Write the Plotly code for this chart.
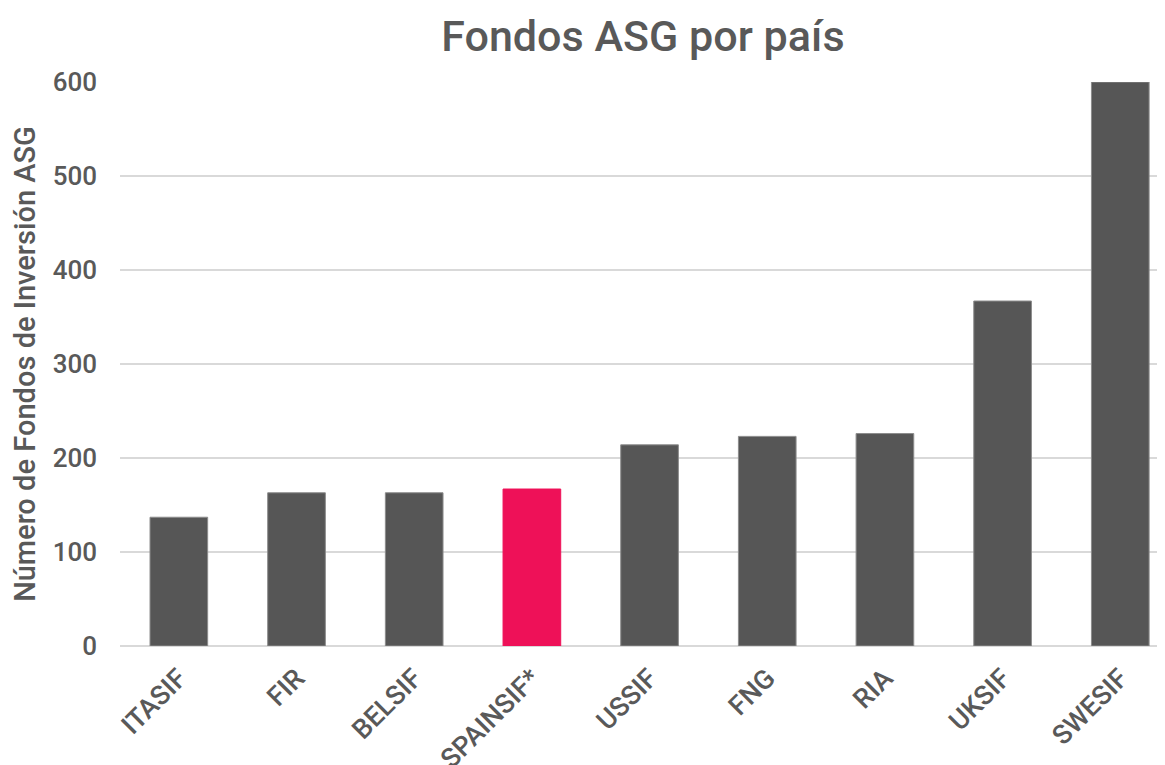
import plotly.graph_objects as go

categories = ["ITASIF", "FIR", "BELSIF", "SPAINSIF*", "USSIF", "FNG", "RIA", "UKSIF", "SWESIF"]
values = [137, 163, 163, 167, 214, 223, 226, 367, 600]
highlight = "SPAINSIF*"

colors = ["#EE1158" if c == highlight else "#565656" for c in categories]
line_colors = ["#EE1158" if c == highlight else "#8c8c8c" for c in categories]

FONT = "Roboto Medium, Roboto"

fig = go.Figure(go.Bar(
    x=categories, y=values,
    marker=dict(color=colors, line=dict(color=line_colors, width=1)),
    width=0.49,
))

fig.update_layout(
    width=1165, height=765,
    paper_bgcolor="white", plot_bgcolor="white",
    margin=dict(l=112, r=8, t=74, b=127, autoexpand=False),
    font=dict(family=FONT, color="#595959"),
    title=dict(text="Fondos ASG por país", x=0.545, xanchor="center", y=0.964, yanchor="middle",
               font=dict(size=43, color="#595959", family=FONT)),
    showlegend=False,
    bargap=0.51,
)
fig.update_xaxes(
    range=[-0.5, 8.38], tickangle=-45, tickfont=dict(size=27, color="#595959", family=FONT),
    showline=False, showgrid=False, ticks="", fixedrange=True, automargin=False,
    ticklabelstandoff=10,
)
fig.update_yaxes(
    range=[0, 600], dtick=100, tickfont=dict(size=26, color="#595959", family=FONT),
    showgrid=True, gridcolor="#d9d9d9", gridwidth=2,
    zeroline=True, zerolinecolor="#d9d9d9", zerolinewidth=2,
    ticklabelstandoff=22, automargin=False,
    title=dict(text="Número de Fondos de Inversión ASG", font=dict(size=29, color="#595959", family=FONT), standoff=14),
)
fig.write_html("out.html")
